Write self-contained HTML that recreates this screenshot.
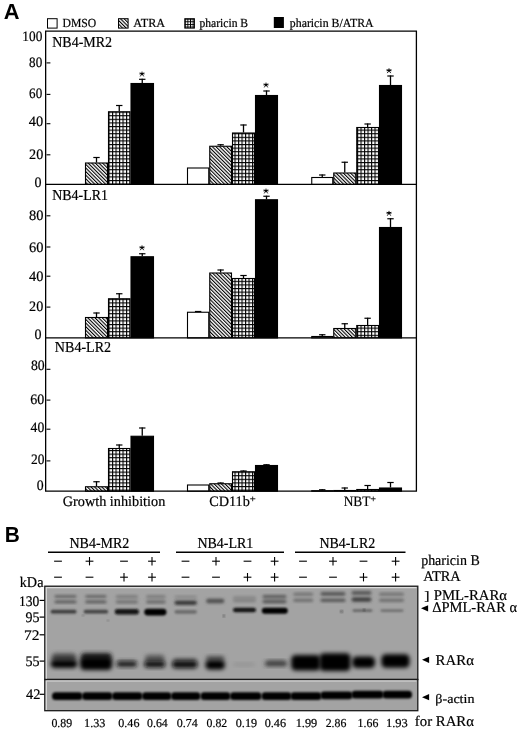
<!DOCTYPE html>
<html><head><meta charset="utf-8"><style>
html,body{margin:0;padding:0;background:#fff;}
body{width:520px;height:732px;overflow:hidden;font-family:"Liberation Serif",serif;}
</style></head><body>
<svg width="520" height="732" viewBox="0 0 520 732" style="display:block;filter:grayscale(1)">
<defs>
<pattern id="hatch" patternUnits="userSpaceOnUse" width="2.55" height="2.55" patternTransform="rotate(-45)"><rect width="2.55" height="2.55" fill="#fff"/><rect x="0" y="0" width="1.1" height="2.55" fill="#000"/></pattern>
<pattern id="grid" patternUnits="userSpaceOnUse" width="3.5" height="3.6"><rect width="3.5" height="3.6" fill="#000"/><rect x="1.1" y="1.1" width="2.4" height="2.5" fill="#fff"/></pattern>
<pattern id="grid2" patternUnits="userSpaceOnUse" x="184.8" y="18.7" width="2.62" height="2.62"><rect width="2.62" height="2.62" fill="#000"/><rect x="0.95" y="0.95" width="1.67" height="1.67" fill="#fff"/></pattern>
<filter id="bd" x="-50%" y="-50%" width="200%" height="200%"><feGaussianBlur stdDeviation="1.35"/></filter>
<filter id="b0" x="-50%" y="-50%" width="200%" height="200%"><feGaussianBlur stdDeviation="1.1"/></filter>
<filter id="b1" x="-50%" y="-50%" width="200%" height="200%"><feGaussianBlur stdDeviation="1.9"/></filter>
<filter id="b2" x="-50%" y="-50%" width="200%" height="200%"><feGaussianBlur stdDeviation="2.2"/></filter>
</defs>
<rect width="520" height="732" fill="#fff"/>
<rect x="47.5" y="18.7" width="9.6" height="9.4" fill="#fff" stroke="#000" stroke-width="1"/>
<rect x="118.5" y="18.7" width="9.6" height="9.4" fill="url(#hatch)" stroke="#000" stroke-width="1"/>
<rect x="184.8" y="18.7" width="9.6" height="9.4" fill="url(#grid2)" stroke="#000" stroke-width="1"/>
<rect x="273.8" y="17" width="10.1" height="11" fill="#000"/>
<rect x="85.50" y="163.00" width="22.00" height="21.45" fill="url(#hatch)" stroke="#000" stroke-width="1.1"/>
<line x1="96.50" y1="157.00" x2="96.50" y2="162.50" stroke="#000" stroke-width="1.3"/>
<line x1="93.30" y1="157.50" x2="99.70" y2="157.50" stroke="#000" stroke-width="1.2"/>
<rect x="108.50" y="111.75" width="21.50" height="72.70" fill="url(#grid)" stroke="#000" stroke-width="1.1"/>
<line x1="119.25" y1="105.00" x2="119.25" y2="111.25" stroke="#000" stroke-width="1.3"/>
<line x1="116.05" y1="105.50" x2="122.45" y2="105.50" stroke="#000" stroke-width="1.2"/>
<rect x="131.00" y="83.50" width="22.50" height="100.95" fill="#000" stroke="#000" stroke-width="1.1"/>
<line x1="142.25" y1="78.80" x2="142.25" y2="83.00" stroke="#000" stroke-width="1.3"/>
<line x1="139.05" y1="79.30" x2="145.45" y2="79.30" stroke="#000" stroke-width="1.2"/>
<rect x="187.50" y="168.00" width="21.25" height="16.45" fill="#fff" stroke="#000" stroke-width="1.1"/>
<rect x="209.75" y="146.25" width="21.75" height="38.20" fill="url(#hatch)" stroke="#000" stroke-width="1.1"/>
<line x1="220.62" y1="144.25" x2="220.62" y2="145.75" stroke="#000" stroke-width="1.3"/>
<line x1="217.43" y1="144.75" x2="223.82" y2="144.75" stroke="#000" stroke-width="1.2"/>
<rect x="232.50" y="133.00" width="22.00" height="51.45" fill="url(#grid)" stroke="#000" stroke-width="1.1"/>
<line x1="243.50" y1="124.50" x2="243.50" y2="132.50" stroke="#000" stroke-width="1.3"/>
<line x1="240.30" y1="125.00" x2="246.70" y2="125.00" stroke="#000" stroke-width="1.2"/>
<rect x="255.50" y="95.50" width="22.00" height="88.95" fill="#000" stroke="#000" stroke-width="1.1"/>
<line x1="266.50" y1="90.50" x2="266.50" y2="95.00" stroke="#000" stroke-width="1.3"/>
<line x1="263.30" y1="91.00" x2="269.70" y2="91.00" stroke="#000" stroke-width="1.2"/>
<rect x="311.75" y="177.50" width="21.00" height="6.95" fill="#fff" stroke="#000" stroke-width="1.1"/>
<line x1="322.25" y1="174.50" x2="322.25" y2="177.00" stroke="#000" stroke-width="1.3"/>
<line x1="319.05" y1="175.00" x2="325.45" y2="175.00" stroke="#000" stroke-width="1.2"/>
<rect x="333.75" y="173.00" width="22.00" height="11.45" fill="url(#hatch)" stroke="#000" stroke-width="1.1"/>
<line x1="344.75" y1="161.75" x2="344.75" y2="172.50" stroke="#000" stroke-width="1.3"/>
<line x1="341.55" y1="162.25" x2="347.95" y2="162.25" stroke="#000" stroke-width="1.2"/>
<rect x="356.75" y="127.50" width="21.75" height="56.95" fill="url(#grid)" stroke="#000" stroke-width="1.1"/>
<line x1="367.62" y1="123.50" x2="367.62" y2="127.00" stroke="#000" stroke-width="1.3"/>
<line x1="364.43" y1="124.00" x2="370.82" y2="124.00" stroke="#000" stroke-width="1.2"/>
<rect x="379.50" y="85.50" width="22.00" height="98.95" fill="#000" stroke="#000" stroke-width="1.1"/>
<line x1="390.50" y1="75.50" x2="390.50" y2="85.00" stroke="#000" stroke-width="1.3"/>
<line x1="387.30" y1="76.00" x2="393.70" y2="76.00" stroke="#000" stroke-width="1.2"/>
<g transform="translate(142,74.2) scale(0.85)" stroke="#000" stroke-width="1.05" stroke-linecap="round"><line x1="0" y1="-2.6" x2="0" y2="0.3"/><line x1="-2.4" y1="-1.3" x2="2.4" y2="-0.3"/><line x1="2.4" y1="-1.3" x2="-2.4" y2="-0.3"/><line x1="0" y1="-0.5" x2="-1.8" y2="2.2"/><line x1="0" y1="-0.5" x2="1.8" y2="2.2"/></g>
<g transform="translate(266,85.2) scale(0.85)" stroke="#000" stroke-width="1.05" stroke-linecap="round"><line x1="0" y1="-2.6" x2="0" y2="0.3"/><line x1="-2.4" y1="-1.3" x2="2.4" y2="-0.3"/><line x1="2.4" y1="-1.3" x2="-2.4" y2="-0.3"/><line x1="0" y1="-0.5" x2="-1.8" y2="2.2"/><line x1="0" y1="-0.5" x2="1.8" y2="2.2"/></g>
<g transform="translate(389,70.9) scale(0.85)" stroke="#000" stroke-width="1.05" stroke-linecap="round"><line x1="0" y1="-2.6" x2="0" y2="0.3"/><line x1="-2.4" y1="-1.3" x2="2.4" y2="-0.3"/><line x1="2.4" y1="-1.3" x2="-2.4" y2="-0.3"/><line x1="0" y1="-0.5" x2="-1.8" y2="2.2"/><line x1="0" y1="-0.5" x2="1.8" y2="2.2"/></g>
<rect x="85.50" y="317.50" width="22.00" height="20.40" fill="url(#hatch)" stroke="#000" stroke-width="1.1"/>
<line x1="96.50" y1="312.50" x2="96.50" y2="317.00" stroke="#000" stroke-width="1.3"/>
<line x1="93.30" y1="313.00" x2="99.70" y2="313.00" stroke="#000" stroke-width="1.2"/>
<rect x="108.50" y="298.75" width="21.50" height="39.15" fill="url(#grid)" stroke="#000" stroke-width="1.1"/>
<line x1="119.25" y1="293.25" x2="119.25" y2="298.25" stroke="#000" stroke-width="1.3"/>
<line x1="116.05" y1="293.75" x2="122.45" y2="293.75" stroke="#000" stroke-width="1.2"/>
<rect x="131.00" y="256.75" width="22.50" height="81.15" fill="#000" stroke="#000" stroke-width="1.1"/>
<line x1="142.25" y1="253.25" x2="142.25" y2="256.25" stroke="#000" stroke-width="1.3"/>
<line x1="139.05" y1="253.75" x2="145.45" y2="253.75" stroke="#000" stroke-width="1.2"/>
<rect x="187.50" y="312.25" width="21.25" height="25.65" fill="#fff" stroke="#000" stroke-width="1.1"/>
<line x1="198.12" y1="311.00" x2="198.12" y2="311.75" stroke="#000" stroke-width="1.3"/>
<line x1="194.93" y1="311.50" x2="201.32" y2="311.50" stroke="#000" stroke-width="1.2"/>
<rect x="209.75" y="273.00" width="21.75" height="64.90" fill="url(#hatch)" stroke="#000" stroke-width="1.1"/>
<line x1="220.62" y1="269.50" x2="220.62" y2="272.50" stroke="#000" stroke-width="1.3"/>
<line x1="217.43" y1="270.00" x2="223.82" y2="270.00" stroke="#000" stroke-width="1.2"/>
<rect x="232.50" y="278.50" width="22.00" height="59.40" fill="url(#grid)" stroke="#000" stroke-width="1.1"/>
<line x1="243.50" y1="275.00" x2="243.50" y2="278.00" stroke="#000" stroke-width="1.3"/>
<line x1="240.30" y1="275.50" x2="246.70" y2="275.50" stroke="#000" stroke-width="1.2"/>
<rect x="255.50" y="199.75" width="22.00" height="138.15" fill="#000" stroke="#000" stroke-width="1.1"/>
<line x1="266.50" y1="195.75" x2="266.50" y2="199.25" stroke="#000" stroke-width="1.3"/>
<line x1="263.30" y1="196.25" x2="269.70" y2="196.25" stroke="#000" stroke-width="1.2"/>
<rect x="311.75" y="336.50" width="21.00" height="1.40" fill="#fff" stroke="#000" stroke-width="1.1"/>
<line x1="322.25" y1="334.25" x2="322.25" y2="336.00" stroke="#000" stroke-width="1.3"/>
<line x1="319.05" y1="334.75" x2="325.45" y2="334.75" stroke="#000" stroke-width="1.2"/>
<rect x="333.75" y="328.50" width="22.00" height="9.40" fill="url(#hatch)" stroke="#000" stroke-width="1.1"/>
<line x1="344.75" y1="323.25" x2="344.75" y2="328.00" stroke="#000" stroke-width="1.3"/>
<line x1="341.55" y1="323.75" x2="347.95" y2="323.75" stroke="#000" stroke-width="1.2"/>
<rect x="356.75" y="325.50" width="21.75" height="12.40" fill="url(#grid)" stroke="#000" stroke-width="1.1"/>
<line x1="367.62" y1="317.75" x2="367.62" y2="325.00" stroke="#000" stroke-width="1.3"/>
<line x1="364.43" y1="318.25" x2="370.82" y2="318.25" stroke="#000" stroke-width="1.2"/>
<rect x="379.50" y="227.50" width="22.00" height="110.40" fill="#000" stroke="#000" stroke-width="1.1"/>
<line x1="390.50" y1="218.25" x2="390.50" y2="227.00" stroke="#000" stroke-width="1.3"/>
<line x1="387.30" y1="218.75" x2="393.70" y2="218.75" stroke="#000" stroke-width="1.2"/>
<g transform="translate(142,248) scale(0.85)" stroke="#000" stroke-width="1.05" stroke-linecap="round"><line x1="0" y1="-2.6" x2="0" y2="0.3"/><line x1="-2.4" y1="-1.3" x2="2.4" y2="-0.3"/><line x1="2.4" y1="-1.3" x2="-2.4" y2="-0.3"/><line x1="0" y1="-0.5" x2="-1.8" y2="2.2"/><line x1="0" y1="-0.5" x2="1.8" y2="2.2"/></g>
<g transform="translate(266,191.2) scale(0.85)" stroke="#000" stroke-width="1.05" stroke-linecap="round"><line x1="0" y1="-2.6" x2="0" y2="0.3"/><line x1="-2.4" y1="-1.3" x2="2.4" y2="-0.3"/><line x1="2.4" y1="-1.3" x2="-2.4" y2="-0.3"/><line x1="0" y1="-0.5" x2="-1.8" y2="2.2"/><line x1="0" y1="-0.5" x2="1.8" y2="2.2"/></g>
<g transform="translate(389,213.5) scale(0.85)" stroke="#000" stroke-width="1.05" stroke-linecap="round"><line x1="0" y1="-2.6" x2="0" y2="0.3"/><line x1="-2.4" y1="-1.3" x2="2.4" y2="-0.3"/><line x1="2.4" y1="-1.3" x2="-2.4" y2="-0.3"/><line x1="0" y1="-0.5" x2="-1.8" y2="2.2"/><line x1="0" y1="-0.5" x2="1.8" y2="2.2"/></g>
<rect x="85.50" y="486.75" width="22.00" height="4.45" fill="url(#hatch)" stroke="#000" stroke-width="1.1"/>
<line x1="96.50" y1="481.25" x2="96.50" y2="486.25" stroke="#000" stroke-width="1.3"/>
<line x1="93.30" y1="481.75" x2="99.70" y2="481.75" stroke="#000" stroke-width="1.2"/>
<rect x="108.50" y="448.50" width="21.50" height="42.70" fill="url(#grid)" stroke="#000" stroke-width="1.1"/>
<line x1="119.25" y1="444.50" x2="119.25" y2="448.00" stroke="#000" stroke-width="1.3"/>
<line x1="116.05" y1="445.00" x2="122.45" y2="445.00" stroke="#000" stroke-width="1.2"/>
<rect x="131.00" y="436.25" width="22.50" height="54.95" fill="#000" stroke="#000" stroke-width="1.1"/>
<line x1="142.25" y1="427.50" x2="142.25" y2="435.75" stroke="#000" stroke-width="1.3"/>
<line x1="139.05" y1="428.00" x2="145.45" y2="428.00" stroke="#000" stroke-width="1.2"/>
<rect x="187.50" y="485.00" width="21.25" height="6.20" fill="#fff" stroke="#000" stroke-width="1.1"/>
<rect x="209.75" y="483.75" width="21.75" height="7.45" fill="url(#hatch)" stroke="#000" stroke-width="1.1"/>
<line x1="220.62" y1="482.50" x2="220.62" y2="483.25" stroke="#000" stroke-width="1.3"/>
<line x1="217.43" y1="483.00" x2="223.82" y2="483.00" stroke="#000" stroke-width="1.2"/>
<rect x="232.50" y="471.75" width="22.00" height="19.45" fill="url(#grid)" stroke="#000" stroke-width="1.1"/>
<line x1="243.50" y1="470.50" x2="243.50" y2="471.25" stroke="#000" stroke-width="1.3"/>
<line x1="240.30" y1="471.00" x2="246.70" y2="471.00" stroke="#000" stroke-width="1.2"/>
<rect x="255.50" y="465.50" width="22.00" height="25.70" fill="#000" stroke="#000" stroke-width="1.1"/>
<line x1="266.50" y1="464.25" x2="266.50" y2="465.00" stroke="#000" stroke-width="1.3"/>
<line x1="263.30" y1="464.75" x2="269.70" y2="464.75" stroke="#000" stroke-width="1.2"/>
<rect x="311.75" y="490.70" width="21.00" height="0.50" fill="#fff" stroke="#000" stroke-width="1.1"/>
<line x1="322.25" y1="489.25" x2="322.25" y2="490.20" stroke="#000" stroke-width="1.3"/>
<line x1="319.05" y1="489.75" x2="325.45" y2="489.75" stroke="#000" stroke-width="1.2"/>
<rect x="333.75" y="490.50" width="22.00" height="0.70" fill="url(#hatch)" stroke="#000" stroke-width="1.1"/>
<line x1="344.75" y1="487.50" x2="344.75" y2="490.00" stroke="#000" stroke-width="1.3"/>
<line x1="341.55" y1="488.00" x2="347.95" y2="488.00" stroke="#000" stroke-width="1.2"/>
<rect x="356.75" y="489.50" width="21.75" height="1.70" fill="url(#grid)" stroke="#000" stroke-width="1.1"/>
<line x1="367.62" y1="485.00" x2="367.62" y2="489.00" stroke="#000" stroke-width="1.3"/>
<line x1="364.43" y1="485.50" x2="370.82" y2="485.50" stroke="#000" stroke-width="1.2"/>
<rect x="379.50" y="488.00" width="22.00" height="3.20" fill="#000" stroke="#000" stroke-width="1.1"/>
<line x1="390.50" y1="482.00" x2="390.50" y2="487.50" stroke="#000" stroke-width="1.3"/>
<line x1="387.30" y1="482.50" x2="393.70" y2="482.50" stroke="#000" stroke-width="1.2"/>
<path d="M45.65 31.1 H416.4 V491.2 H45.65 Z" fill="none" stroke="#000" stroke-width="1.3"/>
<line x1="45.65" y1="184.45" x2="416.4" y2="184.45" stroke="#000" stroke-width="1.3"/>
<line x1="45.65" y1="337.9" x2="416.4" y2="337.9" stroke="#000" stroke-width="1.3"/>
<line x1="46.5" y1="62.9" x2="50.4" y2="62.9" stroke="#000" stroke-width="1.1"/>
<line x1="46.5" y1="94.4" x2="50.4" y2="94.4" stroke="#000" stroke-width="1.1"/>
<line x1="46.5" y1="123.7" x2="50.4" y2="123.7" stroke="#000" stroke-width="1.1"/>
<line x1="46.5" y1="154.8" x2="50.4" y2="154.8" stroke="#000" stroke-width="1.1"/>
<line x1="46.5" y1="215.8" x2="50.4" y2="215.8" stroke="#000" stroke-width="1.1"/>
<line x1="46.5" y1="247" x2="50.4" y2="247" stroke="#000" stroke-width="1.1"/>
<line x1="46.5" y1="276.2" x2="50.4" y2="276.2" stroke="#000" stroke-width="1.1"/>
<line x1="46.5" y1="307.1" x2="50.4" y2="307.1" stroke="#000" stroke-width="1.1"/>
<line x1="46.5" y1="369.3" x2="50.4" y2="369.3" stroke="#000" stroke-width="1.1"/>
<line x1="46.5" y1="400.1" x2="50.4" y2="400.1" stroke="#000" stroke-width="1.1"/>
<line x1="46.5" y1="429.2" x2="50.4" y2="429.2" stroke="#000" stroke-width="1.1"/>
<line x1="46.5" y1="460.9" x2="50.4" y2="460.9" stroke="#000" stroke-width="1.1"/>
<line x1="48" y1="552.2" x2="160" y2="552.2" stroke="#000" stroke-width="1.5"/>
<line x1="176" y1="552.2" x2="284" y2="552.2" stroke="#000" stroke-width="1.5"/>
<line x1="295" y1="552.2" x2="405.5" y2="552.2" stroke="#000" stroke-width="1.5"/>
<line x1="54.1" y1="561.2" x2="61.9" y2="561.2" stroke="#000" stroke-width="1.1"/>
<line x1="54.1" y1="577.2" x2="61.9" y2="577.2" stroke="#000" stroke-width="1.1"/>
<line x1="85.6" y1="561.2" x2="93.4" y2="561.2" stroke="#000" stroke-width="1.1"/>
<line x1="89.5" y1="557.0" x2="89.5" y2="565.4000000000001" stroke="#000" stroke-width="1.1"/>
<line x1="85.6" y1="577.2" x2="93.4" y2="577.2" stroke="#000" stroke-width="1.1"/>
<line x1="120.1" y1="561.2" x2="127.9" y2="561.2" stroke="#000" stroke-width="1.1"/>
<line x1="120.1" y1="577.2" x2="127.9" y2="577.2" stroke="#000" stroke-width="1.1"/>
<line x1="124.0" y1="573.0" x2="124.0" y2="581.4000000000001" stroke="#000" stroke-width="1.1"/>
<line x1="148.1" y1="561.2" x2="155.9" y2="561.2" stroke="#000" stroke-width="1.1"/>
<line x1="152.0" y1="557.0" x2="152.0" y2="565.4000000000001" stroke="#000" stroke-width="1.1"/>
<line x1="148.1" y1="577.2" x2="155.9" y2="577.2" stroke="#000" stroke-width="1.1"/>
<line x1="152.0" y1="573.0" x2="152.0" y2="581.4000000000001" stroke="#000" stroke-width="1.1"/>
<line x1="181.6" y1="561.2" x2="189.4" y2="561.2" stroke="#000" stroke-width="1.1"/>
<line x1="181.6" y1="577.2" x2="189.4" y2="577.2" stroke="#000" stroke-width="1.1"/>
<line x1="212.1" y1="561.2" x2="219.9" y2="561.2" stroke="#000" stroke-width="1.1"/>
<line x1="216.0" y1="557.0" x2="216.0" y2="565.4000000000001" stroke="#000" stroke-width="1.1"/>
<line x1="212.1" y1="577.2" x2="219.9" y2="577.2" stroke="#000" stroke-width="1.1"/>
<line x1="243.6" y1="561.2" x2="251.4" y2="561.2" stroke="#000" stroke-width="1.1"/>
<line x1="243.6" y1="577.2" x2="251.4" y2="577.2" stroke="#000" stroke-width="1.1"/>
<line x1="247.5" y1="573.0" x2="247.5" y2="581.4000000000001" stroke="#000" stroke-width="1.1"/>
<line x1="270.7" y1="561.2" x2="278.5" y2="561.2" stroke="#000" stroke-width="1.1"/>
<line x1="274.6" y1="557.0" x2="274.6" y2="565.4000000000001" stroke="#000" stroke-width="1.1"/>
<line x1="270.7" y1="577.2" x2="278.5" y2="577.2" stroke="#000" stroke-width="1.1"/>
<line x1="274.6" y1="573.0" x2="274.6" y2="581.4000000000001" stroke="#000" stroke-width="1.1"/>
<line x1="299.1" y1="561.2" x2="306.9" y2="561.2" stroke="#000" stroke-width="1.1"/>
<line x1="299.1" y1="577.2" x2="306.9" y2="577.2" stroke="#000" stroke-width="1.1"/>
<line x1="329.1" y1="561.2" x2="336.9" y2="561.2" stroke="#000" stroke-width="1.1"/>
<line x1="333.0" y1="557.0" x2="333.0" y2="565.4000000000001" stroke="#000" stroke-width="1.1"/>
<line x1="329.1" y1="577.2" x2="336.9" y2="577.2" stroke="#000" stroke-width="1.1"/>
<line x1="359.6" y1="561.2" x2="367.4" y2="561.2" stroke="#000" stroke-width="1.1"/>
<line x1="359.6" y1="577.2" x2="367.4" y2="577.2" stroke="#000" stroke-width="1.1"/>
<line x1="363.5" y1="573.0" x2="363.5" y2="581.4000000000001" stroke="#000" stroke-width="1.1"/>
<line x1="391.7" y1="561.2" x2="399.5" y2="561.2" stroke="#000" stroke-width="1.1"/>
<line x1="395.6" y1="557.0" x2="395.6" y2="565.4000000000001" stroke="#000" stroke-width="1.1"/>
<line x1="391.7" y1="577.2" x2="399.5" y2="577.2" stroke="#000" stroke-width="1.1"/>
<line x1="395.6" y1="573.0" x2="395.6" y2="581.4000000000001" stroke="#000" stroke-width="1.1"/>
<rect x="44.8" y="586.2" width="373" height="93.3" fill="#a3a3a3" stroke="#1a1a1a" stroke-width="1.3"/>
<rect x="44.8" y="679.5" width="373" height="31.2" fill="#a3a3a3" stroke="#1a1a1a" stroke-width="1.3"/>
<path d="M46.3 678.8 V587.7 H416.5" fill="none" stroke="#dcdcdc" stroke-width="1.2"/>
<path d="M46.3 710 V681 H416.5" fill="none" stroke="#dcdcdc" stroke-width="1.2"/>
<rect x="54.5" y="595.2" width="22.0" height="2.6" rx="1.3" fill="#5a5a5a" filter="url(#bd)"/>
<rect x="85.3" y="595.2" width="21.2" height="2.6" rx="1.3" fill="#5a5a5a" filter="url(#bd)"/>
<rect x="115.7" y="595.2" width="22.3" height="3.0" rx="1.5" fill="#787878" filter="url(#bd)"/>
<rect x="146.0" y="595.2" width="19.7" height="3.0" rx="1.5" fill="#787878" filter="url(#bd)"/>
<rect x="174.5" y="595.7" width="22.4" height="2.6" rx="1.3" fill="#848484" filter="url(#bd)"/>
<rect x="233.0" y="596.2" width="23.0" height="2.6" rx="1.3" fill="#848484" filter="url(#bd)"/>
<rect x="262.5" y="594.9" width="24.0" height="3.4" rx="1.7" fill="#5a5a5a" filter="url(#bd)"/>
<rect x="293.3" y="592.7" width="19.8" height="3.0" rx="1.5" fill="#6f6f6f" filter="url(#bd)"/>
<rect x="320.5" y="591.9" width="25.0" height="3.8" rx="1.9" fill="#555555" filter="url(#bd)"/>
<rect x="351.5" y="590.9" width="20.0" height="3.9" rx="1.9" fill="#555555" filter="url(#bd)"/>
<rect x="379.0" y="592.7" width="25.0" height="3.0" rx="1.5" fill="#6f6f6f" filter="url(#bd)"/>
<rect x="54.5" y="600.5" width="22.0" height="2.7" rx="1.3" fill="#555555" filter="url(#bd)"/>
<rect x="85.3" y="600.5" width="21.2" height="2.7" rx="1.3" fill="#555555" filter="url(#bd)"/>
<rect x="115.7" y="600.2" width="22.3" height="3.2" rx="1.6" fill="#6f6f6f" filter="url(#bd)"/>
<rect x="146.0" y="600.2" width="19.7" height="3.2" rx="1.6" fill="#676767" filter="url(#bd)"/>
<rect x="174.5" y="600.7" width="22.4" height="4.1" rx="2.0" fill="#2e2e2e" filter="url(#bd)"/>
<rect x="206.1" y="598.8" width="18.2" height="4.4" rx="2.2" fill="#505050" filter="url(#bd)"/>
<rect x="233.0" y="598.8" width="23.0" height="3.5" rx="1.7" fill="#808080" filter="url(#bd)"/>
<rect x="262.5" y="599.7" width="24.0" height="3.5" rx="1.7" fill="#555555" filter="url(#bd)"/>
<rect x="293.3" y="598.7" width="19.8" height="3.1" rx="1.5" fill="#676767" filter="url(#bd)"/>
<rect x="320.5" y="598.7" width="25.0" height="3.1" rx="1.5" fill="#4d4d4d" filter="url(#bd)"/>
<rect x="351.5" y="597.2" width="20.0" height="4.6" rx="2.3" fill="#3f3f3f" filter="url(#bd)"/>
<rect x="379.0" y="598.7" width="25.0" height="3.1" rx="1.5" fill="#676767" filter="url(#bd)"/>
<rect x="50.7" y="609.8" width="25.8" height="3.7" rx="1.9" fill="#3d3d3d" filter="url(#b0)"/>
<rect x="83.7" y="609.8" width="24.4" height="3.7" rx="1.9" fill="#454545" filter="url(#b0)"/>
<rect x="114.8" y="609.1" width="24.1" height="5.4" rx="2.7" fill="#131313" filter="url(#b0)"/>
<rect x="144.2" y="608.7" width="22.3" height="6.7" rx="3.4" fill="#060606" filter="url(#b0)"/>
<rect x="174.5" y="609.9" width="22.4" height="3.8" rx="1.9" fill="#6c6c6c" filter="url(#b0)"/>
<rect x="233.0" y="607.7" width="23.0" height="4.6" rx="2.3" fill="#131313" filter="url(#b0)"/>
<rect x="261.8" y="607.7" width="26.0" height="6.0" rx="3.0" fill="#060606" filter="url(#b0)"/>
<rect x="352.5" y="609.2" width="20.0" height="2.7" rx="1.4" fill="#676767" filter="url(#b0)"/>
<rect x="380.5" y="609.2" width="23.0" height="2.7" rx="1.4" fill="#717171" filter="url(#b0)"/>
<rect x="51.5" y="653.5" width="25.0" height="8.5" rx="4.2" fill="#424242" filter="url(#b2)"/>
<rect x="81.0" y="653.0" width="30.5" height="7.0" rx="3.5" fill="#1e1e1e" filter="url(#b2)"/>
<rect x="117.0" y="659.5" width="19.5" height="4.0" rx="2.0" fill="#747474" filter="url(#b2)"/>
<rect x="145.0" y="655.0" width="19.5" height="7.0" rx="3.5" fill="#545454" filter="url(#b2)"/>
<rect x="173.0" y="658.0" width="24.0" height="5.0" rx="2.5" fill="#6c6c6c" filter="url(#b2)"/>
<rect x="206.0" y="655.9" width="18.5" height="5.1" rx="2.6" fill="#4d4d4d" filter="url(#b2)"/>
<rect x="266.0" y="660.0" width="20.0" height="3.0" rx="1.5" fill="#848484" filter="url(#b2)"/>
<rect x="50.5" y="660.0" width="27.0" height="8.0" rx="4.5" fill="#060606" filter="url(#b1)"/>
<rect x="80.0" y="657.0" width="32.2" height="13.0" rx="4.5" fill="#060606" filter="url(#b1)"/>
<rect x="116.5" y="661.8" width="20.5" height="4.9" rx="3.0" fill="#161616" filter="url(#b1)"/>
<rect x="144.2" y="661.0" width="21.1" height="6.5" rx="3.8" fill="#0e0e0e" filter="url(#b1)"/>
<rect x="172.0" y="660.8" width="25.6" height="7.5" rx="4.2" fill="#0b0b0b" filter="url(#b1)"/>
<rect x="205.3" y="660.2" width="19.7" height="9.3" rx="4.5" fill="#060606" filter="url(#b1)"/>
<rect x="233.0" y="663.1" width="22.0" height="2.7" rx="1.8" fill="#8f8f8f" filter="url(#b1)"/>
<rect x="265.0" y="661.0" width="22.0" height="5.3" rx="3.1" fill="#383838" filter="url(#b1)"/>
<rect x="291.2" y="655.0" width="29.3" height="15.5" rx="4.5" fill="#060606" filter="url(#b1)"/>
<rect x="319.5" y="653.3" width="31.1" height="17.7" rx="4.5" fill="#060606" filter="url(#b1)"/>
<rect x="352.2" y="656.5" width="22.8" height="11.6" rx="4.5" fill="#060606" filter="url(#b1)"/>
<rect x="381.4" y="654.3" width="28.2" height="13.4" rx="4.5" fill="#060606" filter="url(#b1)"/>
<rect x="52.0" y="692.3" width="30.5" height="7.8" rx="3.5" fill="#060606" filter="url(#b0)"/>
<rect x="82.0" y="692.3" width="30.5" height="7.8" rx="3.5" fill="#060606" filter="url(#b0)"/>
<rect x="112.0" y="692.3" width="30.5" height="7.8" rx="3.5" fill="#060606" filter="url(#b0)"/>
<rect x="142.0" y="692.3" width="29.5" height="7.8" rx="3.5" fill="#060606" filter="url(#b0)"/>
<rect x="171.0" y="692.3" width="29.5" height="7.8" rx="3.5" fill="#060606" filter="url(#b0)"/>
<rect x="200.5" y="692.3" width="30.0" height="7.8" rx="3.5" fill="#060606" filter="url(#b0)"/>
<rect x="230.0" y="692.3" width="31.5" height="7.8" rx="3.5" fill="#060606" filter="url(#b0)"/>
<rect x="261.5" y="692.3" width="30.0" height="7.8" rx="3.5" fill="#060606" filter="url(#b0)"/>
<rect x="290.5" y="692.3" width="31.0" height="7.8" rx="3.5" fill="#060606" filter="url(#b0)"/>
<rect x="320.5" y="691.5" width="32.0" height="7.8" rx="3.5" fill="#060606" filter="url(#b0)"/>
<rect x="351.5" y="690.7" width="32.0" height="7.8" rx="3.5" fill="#060606" filter="url(#b0)"/>
<rect x="382.5" y="690.7" width="29.5" height="7.8" rx="3.5" fill="#060606" filter="url(#b0)"/>
<circle cx="223.8" cy="615.9" r="0.9" fill="#222" filter="url(#b0)"/>
<circle cx="341.6" cy="611.5" r="1.0" fill="#222" filter="url(#b0)"/>
<circle cx="364.2" cy="609.9" r="0.9" fill="#222" filter="url(#b0)"/>
<circle cx="83" cy="615.5" r="0.6" fill="#222" filter="url(#b0)"/>
<circle cx="108" cy="620.5" r="0.6" fill="#222" filter="url(#b0)"/>
<line x1="39.6" y1="600.4" x2="44.5" y2="600.4" stroke="#000" stroke-width="1.2"/>
<line x1="39.6" y1="617.1" x2="44.5" y2="617.1" stroke="#000" stroke-width="1.2"/>
<line x1="39.6" y1="634.8" x2="44.5" y2="634.8" stroke="#000" stroke-width="1.2"/>
<line x1="39.6" y1="661.1" x2="44.5" y2="661.1" stroke="#000" stroke-width="1.2"/>
<line x1="39.6" y1="694.3" x2="44.5" y2="694.3" stroke="#000" stroke-width="1.2"/>
<path d="M421 608.3 L428.1 605.1999999999999 L428.1 611.4 Z" fill="#000"/>
<path d="M422 659.8 L429.1 656.6999999999999 L429.1 662.9 Z" fill="#000"/>
<path d="M422 697.2 L429.1 694.1 L429.1 700.3000000000001 Z" fill="#000"/>
<text x="3.77" y="18.75" font-family="Liberation Sans" font-weight="bold" font-size="21.70" text-rendering="geometricPrecision" textLength="15.80" lengthAdjust="spacingAndGlyphs" fill="#000">A</text>
<text x="4.65" y="542.26" font-family="Liberation Sans" font-weight="bold" font-size="21.70" text-rendering="geometricPrecision" textLength="15.06" lengthAdjust="spacingAndGlyphs" fill="#000">B</text>
<text x="62.49" y="27.38" font-family="Liberation Serif" font-weight="normal" font-size="12.32" text-rendering="geometricPrecision" textLength="33.76" lengthAdjust="spacingAndGlyphs" fill="#000" stroke="#000" stroke-width="0.20">DMSO</text>
<text x="133.21" y="27.24" font-family="Liberation Serif" font-weight="normal" font-size="12.32" text-rendering="geometricPrecision" textLength="31.92" lengthAdjust="spacingAndGlyphs" fill="#000" stroke="#000" stroke-width="0.20">ATRA</text>
<text x="199.43" y="26.55" font-family="Liberation Serif" font-weight="normal" font-size="12.32" text-rendering="geometricPrecision" textLength="48.69" lengthAdjust="spacingAndGlyphs" fill="#000" stroke="#000" stroke-width="0.20">pharicin B</text>
<text x="289.83" y="26.57" font-family="Liberation Serif" font-weight="normal" font-size="12.32" text-rendering="geometricPrecision" textLength="83.74" lengthAdjust="spacingAndGlyphs" fill="#000" stroke="#000" stroke-width="0.20">pharicin B/ATRA</text>
<text x="52.19" y="46.72" font-family="Liberation Serif" font-weight="normal" font-size="15.14" text-rendering="geometricPrecision" textLength="59.93" lengthAdjust="spacingAndGlyphs" fill="#000" stroke="#000" stroke-width="0.20">NB4-MR2</text>
<text x="52.20" y="199.62" font-family="Liberation Serif" font-weight="normal" font-size="15.14" text-rendering="geometricPrecision" textLength="55.74" lengthAdjust="spacingAndGlyphs" fill="#000" stroke="#000" stroke-width="0.20">NB4-LR1</text>
<text x="54.83" y="351.58" font-family="Liberation Serif" font-weight="normal" font-size="15.14" text-rendering="geometricPrecision" textLength="56.31" lengthAdjust="spacingAndGlyphs" fill="#000" stroke="#000" stroke-width="0.20">NB4-LR2</text>
<text x="22.37" y="40.55" font-family="Liberation Serif" font-weight="normal" font-size="14.43" text-rendering="geometricPrecision" textLength="19.99" lengthAdjust="spacingAndGlyphs" fill="#000" stroke="#000" stroke-width="0.20">100</text>
<text x="29.08" y="67.30" font-family="Liberation Serif" font-weight="normal" font-size="14.43" text-rendering="geometricPrecision" textLength="13.12" lengthAdjust="spacingAndGlyphs" fill="#000" stroke="#000" stroke-width="0.20">80</text>
<text x="29.12" y="98.15" font-family="Liberation Serif" font-weight="normal" font-size="14.43" text-rendering="geometricPrecision" textLength="13.09" lengthAdjust="spacingAndGlyphs" fill="#000" stroke="#000" stroke-width="0.20">60</text>
<text x="28.83" y="126.38" font-family="Liberation Serif" font-weight="normal" font-size="14.43" text-rendering="geometricPrecision" textLength="14.38" lengthAdjust="spacingAndGlyphs" fill="#000" stroke="#000" stroke-width="0.20">40</text>
<text x="29.07" y="158.71" font-family="Liberation Serif" font-weight="normal" font-size="14.43" text-rendering="geometricPrecision" textLength="14.16" lengthAdjust="spacingAndGlyphs" fill="#000" stroke="#000" stroke-width="0.20">20</text>
<text x="34.43" y="186.61" font-family="Liberation Serif" font-weight="normal" font-size="14.43" text-rendering="geometricPrecision" textLength="7.02" lengthAdjust="spacingAndGlyphs" fill="#000" stroke="#000" stroke-width="0.20">0</text>
<text x="29.11" y="219.80" font-family="Liberation Serif" font-weight="normal" font-size="14.43" text-rendering="geometricPrecision" textLength="14.41" lengthAdjust="spacingAndGlyphs" fill="#000" stroke="#000" stroke-width="0.20">80</text>
<text x="29.10" y="251.79" font-family="Liberation Serif" font-weight="normal" font-size="14.43" text-rendering="geometricPrecision" textLength="14.44" lengthAdjust="spacingAndGlyphs" fill="#000" stroke="#000" stroke-width="0.20">60</text>
<text x="28.94" y="280.61" font-family="Liberation Serif" font-weight="normal" font-size="14.43" text-rendering="geometricPrecision" textLength="14.39" lengthAdjust="spacingAndGlyphs" fill="#000" stroke="#000" stroke-width="0.20">40</text>
<text x="29.07" y="311.45" font-family="Liberation Serif" font-weight="normal" font-size="14.43" text-rendering="geometricPrecision" textLength="14.16" lengthAdjust="spacingAndGlyphs" fill="#000" stroke="#000" stroke-width="0.20">20</text>
<text x="34.43" y="339.48" font-family="Liberation Serif" font-weight="normal" font-size="14.43" text-rendering="geometricPrecision" textLength="7.02" lengthAdjust="spacingAndGlyphs" fill="#000" stroke="#000" stroke-width="0.20">0</text>
<text x="30.95" y="370.38" font-family="Liberation Serif" font-weight="normal" font-size="14.43" text-rendering="geometricPrecision" textLength="13.75" lengthAdjust="spacingAndGlyphs" fill="#000" stroke="#000" stroke-width="0.20">80</text>
<text x="30.14" y="403.62" font-family="Liberation Serif" font-weight="normal" font-size="14.43" text-rendering="geometricPrecision" textLength="14.06" lengthAdjust="spacingAndGlyphs" fill="#000" stroke="#000" stroke-width="0.20">60</text>
<text x="30.59" y="432.34" font-family="Liberation Serif" font-weight="normal" font-size="14.43" text-rendering="geometricPrecision" textLength="13.68" lengthAdjust="spacingAndGlyphs" fill="#000" stroke="#000" stroke-width="0.20">40</text>
<text x="30.93" y="463.92" font-family="Liberation Serif" font-weight="normal" font-size="14.43" text-rendering="geometricPrecision" textLength="13.42" lengthAdjust="spacingAndGlyphs" fill="#000" stroke="#000" stroke-width="0.20">20</text>
<text x="36.64" y="490.37" font-family="Liberation Serif" font-weight="normal" font-size="14.43" text-rendering="geometricPrecision" textLength="6.90" lengthAdjust="spacingAndGlyphs" fill="#000" stroke="#000" stroke-width="0.20">0</text>
<text x="62.75" y="506.44" font-family="Liberation Serif" font-weight="normal" font-size="14.53" text-rendering="geometricPrecision" textLength="102.51" lengthAdjust="spacingAndGlyphs" fill="#000" stroke="#000" stroke-width="0.20">Growth inhibition</text>
<text x="209.13" y="506.38" font-family="Liberation Serif" font-weight="normal" font-size="14.53" text-rendering="geometricPrecision" textLength="40.76" lengthAdjust="spacingAndGlyphs" fill="#000" stroke="#000" stroke-width="0.20">CD11b</text>
<text x="249.67" y="502.23" font-family="Liberation Serif" font-weight="normal" font-size="9.53" text-rendering="geometricPrecision" textLength="6.00" lengthAdjust="spacingAndGlyphs" fill="#000" stroke="#000" stroke-width="0.20">+</text>
<text x="343.69" y="505.72" font-family="Liberation Serif" font-weight="normal" font-size="14.53" text-rendering="geometricPrecision" textLength="26.78" lengthAdjust="spacingAndGlyphs" fill="#000" stroke="#000" stroke-width="0.20">NBT</text>
<text x="370.53" y="501.83" font-family="Liberation Serif" font-weight="normal" font-size="9.53" text-rendering="geometricPrecision" textLength="5.45" lengthAdjust="spacingAndGlyphs" fill="#000" stroke="#000" stroke-width="0.20">+</text>
<text x="69.43" y="547.89" font-family="Liberation Serif" font-weight="normal" font-size="15.14" text-rendering="geometricPrecision" textLength="59.92" lengthAdjust="spacingAndGlyphs" fill="#000" stroke="#000" stroke-width="0.20">NB4-MR2</text>
<text x="197.41" y="547.90" font-family="Liberation Serif" font-weight="normal" font-size="15.14" text-rendering="geometricPrecision" textLength="55.94" lengthAdjust="spacingAndGlyphs" fill="#000" stroke="#000" stroke-width="0.20">NB4-LR1</text>
<text x="319.38" y="547.89" font-family="Liberation Serif" font-weight="normal" font-size="15.14" text-rendering="geometricPrecision" textLength="55.78" lengthAdjust="spacingAndGlyphs" fill="#000" stroke="#000" stroke-width="0.20">NB4-LR2</text>
<text x="421.15" y="564.65" font-family="Liberation Serif" font-weight="normal" font-size="14.72" text-rendering="geometricPrecision" textLength="58.62" lengthAdjust="spacingAndGlyphs" fill="#000" stroke="#000" stroke-width="0.20">pharicin B</text>
<text x="423.14" y="581.49" font-family="Liberation Serif" font-weight="normal" font-size="14.72" text-rendering="geometricPrecision" textLength="37.65" lengthAdjust="spacingAndGlyphs" fill="#000" stroke="#000" stroke-width="0.20">ATRA</text>
<text x="19.76" y="586.59" font-family="Liberation Serif" font-weight="normal" font-size="14.72" text-rendering="geometricPrecision" textLength="23.72" lengthAdjust="spacingAndGlyphs" fill="#000" stroke="#000" stroke-width="0.20">kDa</text>
<text x="424.39" y="599.56" font-family="Liberation Serif" font-weight="normal" font-size="12.80" text-rendering="geometricPrecision" textLength="5.25" lengthAdjust="spacingAndGlyphs" fill="#000" stroke="#000" stroke-width="0.20">]</text>
<text x="433.78" y="599.88" font-family="Liberation Serif" font-weight="normal" font-size="14.72" text-rendering="geometricPrecision" textLength="73.30" lengthAdjust="spacingAndGlyphs" fill="#000" stroke="#000" stroke-width="0.20">PML-RARα</text>
<text x="432.14" y="612.44" font-family="Liberation Serif" font-weight="normal" font-size="14.72" text-rendering="geometricPrecision" textLength="85.09" lengthAdjust="spacingAndGlyphs" fill="#000" stroke="#000" stroke-width="0.20">ΔPML-RAR α</text>
<text x="435.63" y="665.02" font-family="Liberation Serif" font-weight="normal" font-size="14.72" text-rendering="geometricPrecision" textLength="38.34" lengthAdjust="spacingAndGlyphs" fill="#000" stroke="#000" stroke-width="0.20">RARα</text>
<text x="435.33" y="702.89" font-family="Liberation Serif" font-weight="normal" font-size="12.93" text-rendering="geometricPrecision" textLength="39.12" lengthAdjust="spacingAndGlyphs" fill="#000" stroke="#000" stroke-width="0.20">β-actin</text>
<text x="414.80" y="726.37" font-family="Liberation Serif" font-weight="normal" font-size="14.72" text-rendering="geometricPrecision" textLength="59.18" lengthAdjust="spacingAndGlyphs" fill="#000" stroke="#000" stroke-width="0.20">for RARα</text>
<text x="18.96" y="605.75" font-family="Liberation Serif" font-weight="normal" font-size="14.57" text-rendering="geometricPrecision" textLength="20.33" lengthAdjust="spacingAndGlyphs" fill="#000" stroke="#000" stroke-width="0.20">130</text>
<text x="25.40" y="622.14" font-family="Liberation Serif" font-weight="normal" font-size="14.57" text-rendering="geometricPrecision" textLength="13.97" lengthAdjust="spacingAndGlyphs" fill="#000" stroke="#000" stroke-width="0.20">95</text>
<text x="24.09" y="640.10" font-family="Liberation Serif" font-weight="normal" font-size="14.57" text-rendering="geometricPrecision" textLength="15.49" lengthAdjust="spacingAndGlyphs" fill="#000" stroke="#000" stroke-width="0.20">72</text>
<text x="25.53" y="666.02" font-family="Liberation Serif" font-weight="normal" font-size="14.57" text-rendering="geometricPrecision" textLength="14.08" lengthAdjust="spacingAndGlyphs" fill="#000" stroke="#000" stroke-width="0.20">55</text>
<text x="26.10" y="699.47" font-family="Liberation Serif" font-weight="normal" font-size="14.57" text-rendering="geometricPrecision" textLength="14.39" lengthAdjust="spacingAndGlyphs" fill="#000" stroke="#000" stroke-width="0.20">42</text>
<text x="51.40" y="726.99" font-family="Liberation Serif" font-weight="normal" font-size="12.19" text-rendering="geometricPrecision" textLength="20.78" lengthAdjust="spacingAndGlyphs" fill="#000" stroke="#000" stroke-width="0.20">0.89</text>
<text x="84.04" y="726.87" font-family="Liberation Serif" font-weight="normal" font-size="12.19" text-rendering="geometricPrecision" textLength="21.39" lengthAdjust="spacingAndGlyphs" fill="#000" stroke="#000" stroke-width="0.20">1.33</text>
<text x="118.34" y="727.00" font-family="Liberation Serif" font-weight="normal" font-size="12.19" text-rendering="geometricPrecision" textLength="21.07" lengthAdjust="spacingAndGlyphs" fill="#000" stroke="#000" stroke-width="0.20">0.46</text>
<text x="147.07" y="727.02" font-family="Liberation Serif" font-weight="normal" font-size="12.19" text-rendering="geometricPrecision" textLength="20.73" lengthAdjust="spacingAndGlyphs" fill="#000" stroke="#000" stroke-width="0.20">0.64</text>
<text x="176.68" y="726.99" font-family="Liberation Serif" font-weight="normal" font-size="12.19" text-rendering="geometricPrecision" textLength="21.05" lengthAdjust="spacingAndGlyphs" fill="#000" stroke="#000" stroke-width="0.20">0.74</text>
<text x="206.53" y="726.99" font-family="Liberation Serif" font-weight="normal" font-size="12.19" text-rendering="geometricPrecision" textLength="20.68" lengthAdjust="spacingAndGlyphs" fill="#000" stroke="#000" stroke-width="0.20">0.82</text>
<text x="235.77" y="726.92" font-family="Liberation Serif" font-weight="normal" font-size="12.19" text-rendering="geometricPrecision" textLength="21.30" lengthAdjust="spacingAndGlyphs" fill="#000" stroke="#000" stroke-width="0.20">0.19</text>
<text x="264.67" y="727.01" font-family="Liberation Serif" font-weight="normal" font-size="12.19" text-rendering="geometricPrecision" textLength="21.33" lengthAdjust="spacingAndGlyphs" fill="#000" stroke="#000" stroke-width="0.20">0.46</text>
<text x="295.68" y="726.94" font-family="Liberation Serif" font-weight="normal" font-size="12.19" text-rendering="geometricPrecision" textLength="21.59" lengthAdjust="spacingAndGlyphs" fill="#000" stroke="#000" stroke-width="0.20">1.99</text>
<text x="325.71" y="726.98" font-family="Liberation Serif" font-weight="normal" font-size="12.19" text-rendering="geometricPrecision" textLength="20.67" lengthAdjust="spacingAndGlyphs" fill="#000" stroke="#000" stroke-width="0.20">2.86</text>
<text x="357.61" y="726.96" font-family="Liberation Serif" font-weight="normal" font-size="12.19" text-rendering="geometricPrecision" textLength="20.69" lengthAdjust="spacingAndGlyphs" fill="#000" stroke="#000" stroke-width="0.20">1.66</text>
<text x="385.99" y="726.99" font-family="Liberation Serif" font-weight="normal" font-size="12.19" text-rendering="geometricPrecision" textLength="21.89" lengthAdjust="spacingAndGlyphs" fill="#000" stroke="#000" stroke-width="0.20">1.93</text>
</svg>
</body></html>
